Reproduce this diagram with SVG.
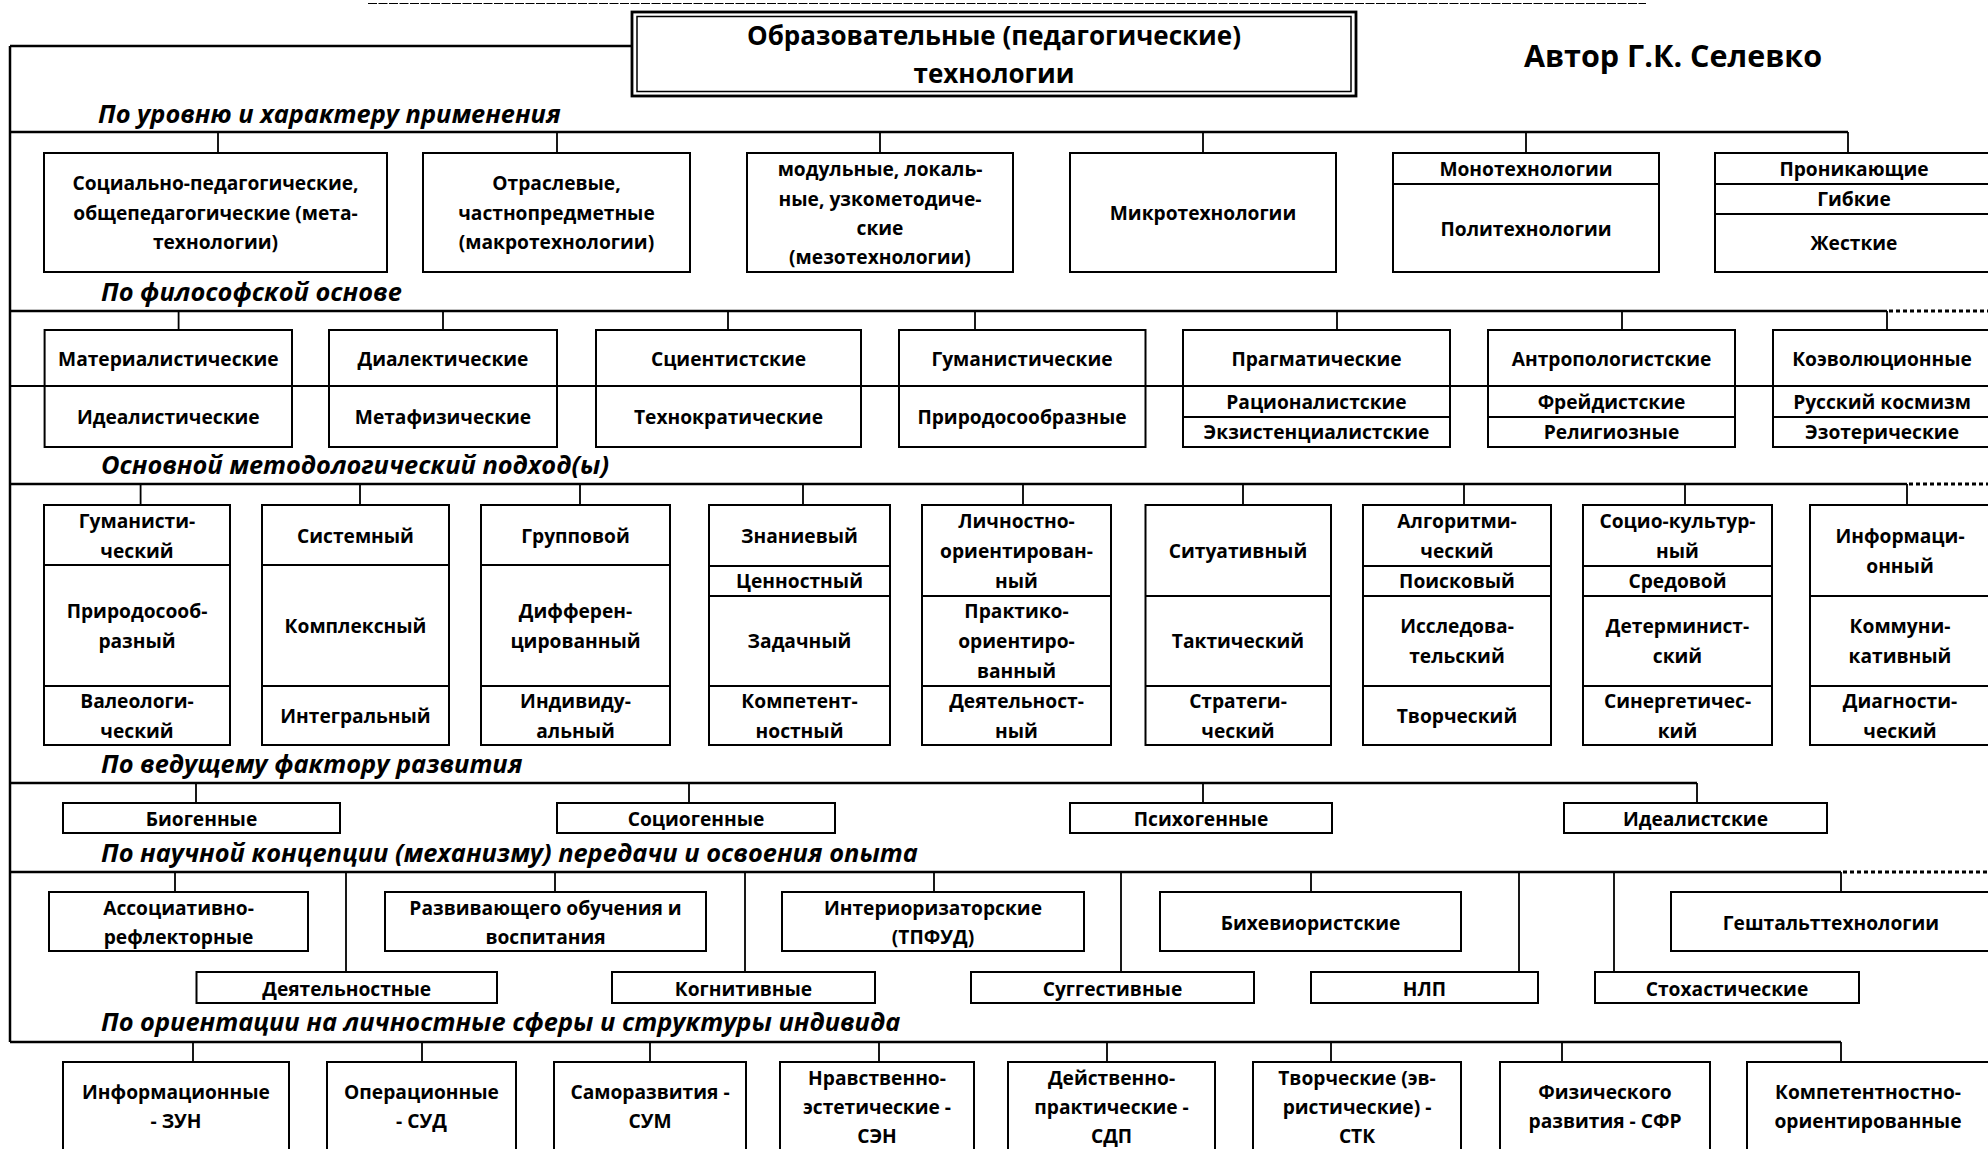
<svg xmlns="http://www.w3.org/2000/svg" width="1988" height="1149" viewBox="0 0 1988 1149">
  <style>
    .bg { fill: #ffffff; }
    .box { fill: #ffffff; stroke: #000000; stroke-width: 2; }
    .div { stroke: #000000; stroke-width: 2; fill: none; }
    .sec { stroke: #000000; stroke-width: 2.5; fill: none; }
    .con { stroke: #000000; stroke-width: 1.8; fill: none; }
    .dot { stroke: #000000; stroke-width: 3; stroke-dasharray: 4 3; fill: none; }
    .thin { stroke: #000000; stroke-width: 1; stroke-dasharray: 9 1.5; fill: none; }
    .t { font-family: "Open Sans", "Noto Sans", "DejaVu Sans", sans-serif; font-weight: 700; font-size: 19.2px; text-anchor: middle; fill: #000000; }
    .lab { font-family: "Open Sans", "Noto Sans", "DejaVu Sans", sans-serif; font-weight: 700; font-style: italic; font-size: 25.4px; fill: #000000; }
    .title { font-family: "Open Sans", "Noto Sans", "DejaVu Sans", sans-serif; font-weight: 700; font-size: 26px; text-anchor: middle; fill: #000000; }
    .author { font-family: "Open Sans", "Noto Sans", "DejaVu Sans", sans-serif; font-weight: 700; font-size: 30.5px; text-anchor: middle; fill: #000000; }
  </style>
  <rect class="bg" x="0" y="0" width="1988" height="1149"/>

  <!-- connector tree: frame, section buses and drops -->
  <g id="connectors">
    <line class="thin" x1="368" y1="3.5" x2="1646" y2="3.5"/>
    <path class="sec" d="M10,46 V1042 M10,46 H631"/>
    <!-- section 1 -->
    <path class="sec" d="M10,132 H1848"/>
    <path class="con" d="M218,132 V153 M557,132 V153 M880,132 V153 M1203,132 V153 M1526,132 V153 M1848,132 V153"/>
    <!-- section 2 -->
    <path class="sec" d="M10,311 H1887"/>
    <line class="dot" x1="1889" y1="311" x2="1988" y2="311"/>
    <path class="con" d="M178.6,311 V330 M443,311 V330 M728,311 V330 M975,311 V330 M1337,311 V330 M1622,311 V330 M1887,311 V330"/>
    <!-- section 3 -->
    <path class="sec" d="M10,484 H1907"/>
    <line class="dot" x1="1909" y1="484" x2="1988" y2="484"/>
    <path class="con" d="M140.6,484 V505 M360,484 V505 M580,484 V505 M803,484 V505 M1023,484 V505 M1243,484 V505 M1464,484 V505 M1685,484 V505 M1907,484 V505"/>
    <!-- section 4 -->
    <path class="sec" d="M10,783 H1697"/>
    <path class="con" d="M196,783 V803 M689,783 V803 M1203,783 V803 M1697,783 V803"/>
    <!-- section 5 -->
    <path class="sec" d="M10,872 H1841"/>
    <line class="dot" x1="1843" y1="872" x2="1988" y2="872"/>
    <path class="con" d="M175,872 V892 M346,872 V972 M555,872 V892 M745,872 V972 M934,872 V892 M1121,872 V972 M1311,872 V892 M1519,872 V972 M1614,872 V972 M1841,872 V892"/>
    <!-- section 6 -->
    <path class="sec" d="M10,1042 H1841"/>
    <path class="con" d="M193,1042 V1062 M422,1042 V1062 M650,1042 V1062 M879,1042 V1062 M1107,1042 V1062 M1331,1042 V1062 M1562,1042 V1062 M1841,1042 V1062"/>
  </g>

  <!-- header -->
  <g id="title">
    <rect x="632" y="12" width="724" height="84" fill="#ffffff" stroke="#000" stroke-width="2.8"/>
    <rect x="637" y="16.5" width="714" height="75" fill="none" stroke="#000" stroke-width="1.5"/>
    <text class="title" x="994" y="45">Образовательные (педагогические)</text>
    <text class="title" x="994" y="83">технологии</text>
  </g>
  <g id="author">
    <text class="author" x="1673" y="67">Автор Г.К. Селевко</text>
  </g>

  <!-- 1. По уровню и характеру применения -->
  <g id="sec1-label"><text class="lab" x="98" y="123">По уровню и характеру применения</text></g>
  <g id="n1-1">
    <rect class="box" x="44" y="153" width="343" height="119"/>
    <text class="t" x="215.5" y="190">Социально-педагогические,</text>
    <text class="t" x="215.5" y="219.5">общепедагогические (мета-</text>
    <text class="t" x="215.5" y="249">технологии)</text>
  </g>
  <g id="n1-2">
    <rect class="box" x="423" y="153" width="267" height="119"/>
    <text class="t" x="556.5" y="190">Отраслевые,</text>
    <text class="t" x="556.5" y="219.5">частнопредметные</text>
    <text class="t" x="556.5" y="249">(макротехнологии)</text>
  </g>
  <g id="n1-3">
    <rect class="box" x="747" y="153" width="266" height="119"/>
    <text class="t" x="880" y="176">модульные, локаль-</text>
    <text class="t" x="880" y="205.5">ные, узкометодиче-</text>
    <text class="t" x="880" y="235">ские</text>
    <text class="t" x="880" y="264">(мезотехнологии)</text>
  </g>
  <g id="n1-4">
    <rect class="box" x="1070" y="153" width="266" height="119"/>
    <text class="t" x="1203" y="220">Микротехнологии</text>
  </g>
  <g id="n1-5">
    <rect class="box" x="1393" y="153" width="266" height="119"/>
    <line class="div" x1="1393" y1="184" x2="1659" y2="184"/>
    <text class="t" x="1526" y="176">Монотехнологии</text>
    <text class="t" x="1526" y="236">Политехнологии</text>
  </g>
  <g id="n1-6">
    <rect class="box" x="1715" y="153" width="280" height="119"/>
    <line class="div" x1="1715" y1="184" x2="1995" y2="184"/>
    <line class="div" x1="1715" y1="214" x2="1995" y2="214"/>
    <text class="t" x="1854" y="176">Проникающие</text>
    <text class="t" x="1854" y="206">Гибкие</text>
    <text class="t" x="1854" y="250">Жесткие</text>
  </g>

  <!-- 2. По философской основе -->
  <g id="sec2-label"><text class="lab" x="101" y="301">По философской основе</text></g>
  <g id="n2-1">
    <rect class="box" x="44.6" y="330" width="247.4" height="117"/>
    <text class="t" x="168.3" y="366">Материалистические</text>
    <text class="t" x="168.3" y="424">Идеалистические</text>
  </g>
  <g id="n2-2">
    <rect class="box" x="329" y="330" width="228" height="117"/>
    <text class="t" x="443" y="366">Диалектические</text>
    <text class="t" x="443" y="424">Метафизические</text>
  </g>
  <g id="n2-3">
    <rect class="box" x="596" y="330" width="265" height="117"/>
    <text class="t" x="728.5" y="366">Сциентистские</text>
    <text class="t" x="728.5" y="424">Технократические</text>
  </g>
  <g id="n2-4">
    <rect class="box" x="899" y="330" width="246.5" height="117"/>
    <text class="t" x="1022" y="366">Гуманистические</text>
    <text class="t" x="1022" y="424">Природосообразные</text>
  </g>
  <g id="n2-5">
    <rect class="box" x="1183" y="330" width="267" height="117"/>
    <line class="div" x1="1183" y1="417" x2="1450" y2="417"/>
    <text class="t" x="1316.5" y="366">Прагматические</text>
    <text class="t" x="1316.5" y="409">Рационалистские</text>
    <text class="t" x="1316.5" y="439">Экзистенциалистские</text>
  </g>
  <g id="n2-6">
    <rect class="box" x="1488" y="330" width="247" height="117"/>
    <line class="div" x1="1488" y1="417" x2="1735" y2="417"/>
    <text class="t" x="1611.5" y="366">Антропологистские</text>
    <text class="t" x="1611.5" y="409">Фрейдистские</text>
    <text class="t" x="1611.5" y="439">Религиозные</text>
  </g>
  <g id="n2-7">
    <rect class="box" x="1773" y="330" width="218" height="117"/>
    <line class="div" x1="1773" y1="417" x2="1991" y2="417"/>
    <text class="t" x="1882" y="366">Коэволюционные</text>
    <text class="t" x="1882" y="409">Русский космизм</text>
    <text class="t" x="1882" y="439">Эзотерические</text>
  </g>
  <!-- row rule shared by the philosophy pairs -->
  <line class="div" x1="10" y1="386" x2="1988" y2="386"/>

  <!-- 3. Основной методологический подход(ы) -->
  <g id="sec3-label"><text class="lab" x="101" y="474">Основной методологический подход(ы)</text></g>
  <g id="n3-1">
    <rect class="box" x="44" y="505" width="186" height="240"/>
    <path class="div" d="M44,565 H230 M44,686 H230"/>
    <text class="t" x="137" y="528">Гуманисти-</text>
    <text class="t" x="137" y="558">ческий</text>
    <text class="t" x="137" y="618">Природосооб-</text>
    <text class="t" x="137" y="648">разный</text>
    <text class="t" x="137" y="708">Валеологи-</text>
    <text class="t" x="137" y="738">ческий</text>
  </g>
  <g id="n3-2">
    <rect class="box" x="262" y="505" width="187" height="240"/>
    <path class="div" d="M262,565 H449 M262,686 H449"/>
    <text class="t" x="355.5" y="543">Системный</text>
    <text class="t" x="355.5" y="633">Комплексный</text>
    <text class="t" x="355.5" y="723">Интегральный</text>
  </g>
  <g id="n3-3">
    <rect class="box" x="481" y="505" width="189" height="240"/>
    <path class="div" d="M481,565 H670 M481,686 H670"/>
    <text class="t" x="575.5" y="543">Групповой</text>
    <text class="t" x="575.5" y="618">Дифферен-</text>
    <text class="t" x="575.5" y="648">цированный</text>
    <text class="t" x="575.5" y="708">Индивиду-</text>
    <text class="t" x="575.5" y="738">альный</text>
  </g>
  <g id="n3-4">
    <rect class="box" x="709" y="505" width="181" height="240"/>
    <path class="div" d="M709,566 H890 M709,596 H890 M709,686 H890"/>
    <text class="t" x="799.5" y="543">Знаниевый</text>
    <text class="t" x="799.5" y="588">Ценностный</text>
    <text class="t" x="799.5" y="648">Задачный</text>
    <text class="t" x="799.5" y="708">Компетент-</text>
    <text class="t" x="799.5" y="738">ностный</text>
  </g>
  <g id="n3-5">
    <rect class="box" x="922" y="505" width="189" height="240"/>
    <path class="div" d="M922,596 H1111 M922,686 H1111"/>
    <text class="t" x="1016.5" y="528">Личностно-</text>
    <text class="t" x="1016.5" y="558">ориентирован-</text>
    <text class="t" x="1016.5" y="588">ный</text>
    <text class="t" x="1016.5" y="618">Практико-</text>
    <text class="t" x="1016.5" y="648">ориентиро-</text>
    <text class="t" x="1016.5" y="678">ванный</text>
    <text class="t" x="1016.5" y="708">Деятельност-</text>
    <text class="t" x="1016.5" y="738">ный</text>
  </g>
  <g id="n3-6">
    <rect class="box" x="1145.5" y="505" width="185.5" height="240"/>
    <path class="div" d="M1145.5,596 H1331 M1145.5,686 H1331"/>
    <text class="t" x="1238" y="558">Ситуативный</text>
    <text class="t" x="1238" y="648">Тактический</text>
    <text class="t" x="1238" y="708">Стратеги-</text>
    <text class="t" x="1238" y="738">ческий</text>
  </g>
  <g id="n3-7">
    <rect class="box" x="1363" y="505" width="188" height="240"/>
    <path class="div" d="M1363,566 H1551 M1363,596 H1551 M1363,686 H1551"/>
    <text class="t" x="1457" y="528">Алгоритми-</text>
    <text class="t" x="1457" y="558">ческий</text>
    <text class="t" x="1457" y="588">Поисковый</text>
    <text class="t" x="1457" y="633">Исследова-</text>
    <text class="t" x="1457" y="663">тельский</text>
    <text class="t" x="1457" y="723">Творческий</text>
  </g>
  <g id="n3-8">
    <rect class="box" x="1583" y="505" width="189" height="240"/>
    <path class="div" d="M1583,566 H1772 M1583,596 H1772 M1583,686 H1772"/>
    <text class="t" x="1677.5" y="528">Социо-культур-</text>
    <text class="t" x="1677.5" y="558">ный</text>
    <text class="t" x="1677.5" y="588">Средовой</text>
    <text class="t" x="1677.5" y="633">Детерминист-</text>
    <text class="t" x="1677.5" y="663">ский</text>
    <text class="t" x="1677.5" y="708">Синергетичес-</text>
    <text class="t" x="1677.5" y="738">кий</text>
  </g>
  <g id="n3-9">
    <rect class="box" x="1810" y="505" width="180" height="240"/>
    <path class="div" d="M1810,596 H1990 M1810,686 H1990"/>
    <text class="t" x="1900" y="543">Информаци-</text>
    <text class="t" x="1900" y="573">онный</text>
    <text class="t" x="1900" y="633">Коммуни-</text>
    <text class="t" x="1900" y="663">кативный</text>
    <text class="t" x="1900" y="708">Диагности-</text>
    <text class="t" x="1900" y="738">ческий</text>
  </g>

  <!-- 4. По ведущему фактору развития -->
  <g id="sec4-label"><text class="lab" x="101" y="773">По ведущему фактору развития</text></g>
  <g id="n4-1">
    <rect class="box" x="63" y="803" width="277" height="30"/>
    <text class="t" x="201.5" y="826">Биогенные</text>
  </g>
  <g id="n4-2">
    <rect class="box" x="557" y="803" width="278" height="30"/>
    <text class="t" x="696" y="826">Социогенные</text>
  </g>
  <g id="n4-3">
    <rect class="box" x="1070" y="803" width="262" height="30"/>
    <text class="t" x="1201" y="826">Психогенные</text>
  </g>
  <g id="n4-4">
    <rect class="box" x="1564" y="803" width="263" height="30"/>
    <text class="t" x="1695.5" y="826">Идеалистские</text>
  </g>

  <!-- 5. По научной концепции передачи и освоения опыта -->
  <g id="sec5-label"><text class="lab" x="101" y="862">По научной концепции (механизму) передачи и освоения опыта</text></g>
  <g id="n5-1">
    <rect class="box" x="49" y="892" width="259" height="59"/>
    <text class="t" x="178.5" y="915">Ассоциативно-</text>
    <text class="t" x="178.5" y="944">рефлекторные</text>
  </g>
  <g id="n5-2">
    <rect class="box" x="385" y="892" width="321" height="59"/>
    <text class="t" x="545.5" y="915">Развивающего обучения и</text>
    <text class="t" x="545.5" y="944">воспитания</text>
  </g>
  <g id="n5-3">
    <rect class="box" x="782" y="892" width="302" height="59"/>
    <text class="t" x="933" y="915">Интериоризаторские</text>
    <text class="t" x="933" y="944">(ТПФУД)</text>
  </g>
  <g id="n5-4">
    <rect class="box" x="1160" y="892" width="301" height="59"/>
    <text class="t" x="1310.5" y="930">Бихевиористские</text>
  </g>
  <g id="n5-5">
    <rect class="box" x="1671" y="892" width="320" height="59"/>
    <text class="t" x="1831" y="930">Гештальттехнологии</text>
  </g>
  <g id="n5-6">
    <rect class="box" x="196.5" y="972" width="300.5" height="31"/>
    <text class="t" x="346.7" y="996">Деятельностные</text>
  </g>
  <g id="n5-7">
    <rect class="box" x="612" y="972" width="263" height="31"/>
    <text class="t" x="743.5" y="996">Когнитивные</text>
  </g>
  <g id="n5-8">
    <rect class="box" x="971" y="972" width="283" height="31"/>
    <text class="t" x="1112.5" y="996">Суггестивные</text>
  </g>
  <g id="n5-9">
    <rect class="box" x="1311" y="972" width="227" height="31"/>
    <text class="t" x="1424.5" y="996">НЛП</text>
  </g>
  <g id="n5-10">
    <rect class="box" x="1595" y="972" width="264" height="31"/>
    <text class="t" x="1727" y="996">Стохастические</text>
  </g>

  <!-- 6. По ориентации на личностные сферы -->
  <g id="sec6-label"><text class="lab" x="101" y="1031">По ориентации на личностные сферы и структуры индивида</text></g>
  <g id="n6-1">
    <rect class="box" x="63" y="1062" width="226" height="100"/>
    <text class="t" x="176" y="1099">Информационные</text>
    <text class="t" x="176" y="1128">- ЗУН</text>
  </g>
  <g id="n6-2">
    <rect class="box" x="327" y="1062" width="189" height="100"/>
    <text class="t" x="421.5" y="1099">Операционные</text>
    <text class="t" x="421.5" y="1128">- СУД</text>
  </g>
  <g id="n6-3">
    <rect class="box" x="554" y="1062" width="192" height="100"/>
    <text class="t" x="650" y="1099">Саморазвития -</text>
    <text class="t" x="650" y="1128">СУМ</text>
  </g>
  <g id="n6-4">
    <rect class="box" x="780" y="1062" width="194" height="100"/>
    <text class="t" x="877" y="1085">Нравственно-</text>
    <text class="t" x="877" y="1114">эстетические -</text>
    <text class="t" x="877" y="1143">СЭН</text>
  </g>
  <g id="n6-5">
    <rect class="box" x="1008" y="1062" width="207" height="100"/>
    <text class="t" x="1111.5" y="1085">Действенно-</text>
    <text class="t" x="1111.5" y="1114">практические -</text>
    <text class="t" x="1111.5" y="1143">СДП</text>
  </g>
  <g id="n6-6">
    <rect class="box" x="1253" y="1062" width="208" height="100"/>
    <text class="t" x="1357" y="1085">Творческие (эв-</text>
    <text class="t" x="1357" y="1114">ристические) -</text>
    <text class="t" x="1357" y="1143">СТК</text>
  </g>
  <g id="n6-7">
    <rect class="box" x="1500" y="1062" width="210" height="100"/>
    <text class="t" x="1605" y="1099">Физического</text>
    <text class="t" x="1605" y="1128">развития - СФР</text>
  </g>
  <g id="n6-8">
    <rect class="box" x="1747" y="1062" width="243" height="100"/>
    <text class="t" x="1868" y="1099">Компетентностно-</text>
    <text class="t" x="1868" y="1128">ориентированные</text>
  </g>
</svg>
